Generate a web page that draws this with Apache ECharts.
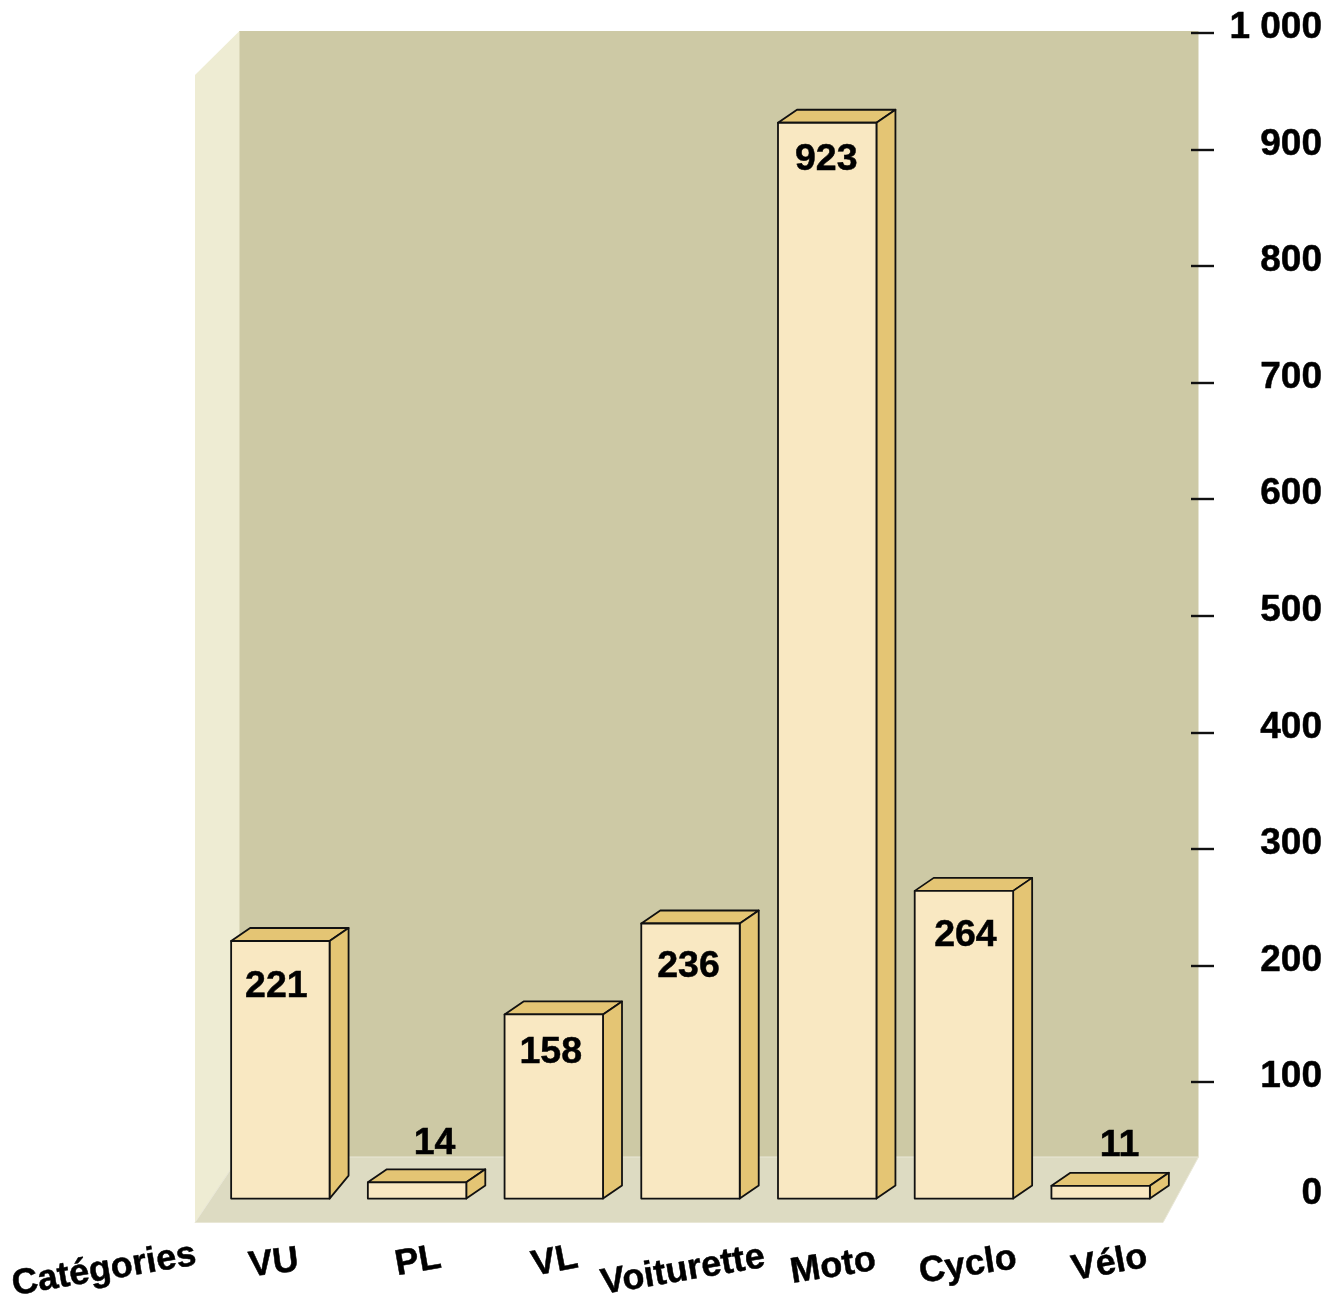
<!DOCTYPE html>
<html>
<head>
<meta charset="utf-8">
<title>Catégories</title>
<script src="https://cdn.jsdelivr.net/npm/echarts@6/dist/echarts.min.js"></script>
<style>
  html, body { margin: 0; padding: 0; background: #ffffff; }
  #chart { width: 1337px; height: 1296px; }
</style>
</head>
<body>
<div id="chart"></div>
<script>
const categories = ['VU', 'PL', 'VL', 'Voiturette', 'Moto', 'Cyclo', 'Vélo'];
const counts = [221, 14, 158, 236, 923, 264, 11];
const axisTitle = 'Catégories';
const axisTicks = [100, 200, 300, 400, 500, 600, 700, 800, 900, 1000];

const FAMILY = '"Liberation Sans", Arial, sans-serif';
const CAPTION_FONT = 'bold 36px ' + FAMILY;
const VALUE_FONT = 'bold 37.5px ' + FAMILY;
const INK = '#111111';
const FRONT = '#F9E8C2';
const SHADE = '#E4C574';
const DEPTH_X = 19;
const DEPTH_Y = 13;
const BAR_RATIO = 0.72;
const TEXT_WEIGHT = { stroke: '#000000', lineWidth: 0.5 };

// Where each value label sits relative to its bar: [dx from centre, dy from top].
const valueLabelShift = [[-4, 46], [17.5, -39], [-3, 38], [-2, 43], [-1, 37], [1.5, 45], [19, -40.5]];
// Category captions follow a gentle arc: [dx from band centre, dy below baseline, tilt in degrees].
const captionArc = [[-6.5, 65, 7], [1, 63, 10], [1, 63, 11], [-7.5, 72, 9.5], [6, 68, 9], [4, 67, 8.7], [9, 65, 10.5]];

const deg = (d) => d * Math.PI / 180;

function poly(points, fill) {
  return {
    type: 'polygon',
    shape: { points },
    style: { fill, stroke: INK, lineWidth: 1.8, lineJoin: 'round' }
  };
}

function renderBar(params, api) {
  const i = api.value(0);
  const value = api.value(1);
  const top = api.coord([i, value]);
  const base = api.coord([i, 0]);
  const w = api.size([1, 0])[0] * BAR_RATIO;
  const l = top[0] - w / 2;
  const r = top[0] + w / 2;
  // The first bar stands against the side wall, so its foot recedes further.
  const footRise = i === 0 ? 23 : DEPTH_Y;
  const shift = valueLabelShift[i];
  return {
    type: 'group',
    children: [
      poly([[l, top[1]], [l + DEPTH_X, top[1] - DEPTH_Y], [r + DEPTH_X, top[1] - DEPTH_Y], [r, top[1]]], SHADE),
      poly([[r, top[1]], [r + DEPTH_X, top[1] - DEPTH_Y], [r + DEPTH_X, base[1] - footRise], [r, base[1]]], SHADE),
      poly([[l, top[1]], [r, top[1]], [r, base[1]], [l, base[1]]], FRONT),
      {
        type: 'text',
        style: {
          text: String(value),
          x: top[0] + shift[0],
          y: top[1] + shift[1],
          font: VALUE_FONT,
          fill: '#000000',
          align: 'center',
          verticalAlign: 'middle',
          ...TEXT_WEIGHT
        }
      }
    ]
  };
}

function renderCaption(params, api) {
  const i = api.value(0);
  const base = api.coord([i, 0]);
  const arc = captionArc[i];
  return {
    type: 'text',
    x: base[0] + arc[0],
    y: base[1] + arc[1],
    rotation: deg(arc[2]),
    style: {
      text: categories[i],
      font: CAPTION_FONT,
      fill: '#000000',
      align: 'center',
      verticalAlign: 'middle',
      ...TEXT_WEIGHT
    }
  };
}

const chart = echarts.init(document.getElementById('chart'), null, { renderer: 'canvas' });

chart.setOption({
  animation: false,
  backgroundColor: '#ffffff',
  grid: { left: 212, right: 168, top: 33, bottom: 97.4, outerBoundsMode: 'none' },
  xAxis: {
    type: 'category',
    data: categories,
    axisLine: { show: false },
    axisTick: { show: false },
    axisLabel: { show: false },
    splitLine: { show: false }
  },
  yAxis: {
    type: 'value',
    position: 'right',
    offset: 22,
    min: 0,
    max: 1000,
    interval: 100,
    axisLine: { show: false },
    splitLine: { show: false },
    axisTick: {
      show: true,
      length: 23,
      customValues: axisTicks,
      lineStyle: { color: INK, width: 2.4 }
    },
    axisLabel: {
      margin: 131,
      align: 'right',
      verticalAlign: 'bottom',
      lineHeight: 10,
      fontWeight: 'bold',
      fontSize: 37,
      fontFamily: FAMILY,
      color: '#000000',
      textBorderColor: '#000000',
      textBorderWidth: 0.5,
      formatter: (v) => (v >= 1000 ? '1 000' : String(v))
    }
  },
  graphic: {
    elements: [
      // Back wall, side wall and floor of the box behind the bars.
      {
        type: 'polygon', z: -10, silent: true,
        shape: { points: [[239, 31], [1198.5, 31], [1198.5, 1157], [239, 1157]] },
        style: { fill: '#CDC9A5' }
      },
      {
        type: 'polygon', z: -9, silent: true,
        shape: { points: [[195, 75], [239.5, 31], [239.5, 1157], [195, 1222]] },
        style: { fill: '#EEECD3' }
      },
      {
        type: 'polygon', z: -8, silent: true,
        shape: { points: [[195, 1222.5], [239, 1157], [1198.5, 1157], [1163, 1222.5]] },
        style: { fill: '#DDDBC2', stroke: '#E9E7D6', lineWidth: 1 }
      },
      {
        type: 'text', z: 5,
        x: 104, y: 1270, rotation: deg(9.5),
        style: {
          text: axisTitle,
          font: CAPTION_FONT,
          fill: '#000000',
          align: 'center',
          verticalAlign: 'middle',
          ...TEXT_WEIGHT
        }
      }
    ]
  },
  series: [
    {
      type: 'custom',
      name: 'Effectif',
      renderItem: renderBar,
      encode: { x: 0, y: 1 },
      data: counts.map((v, i) => [i, v]),
      clip: false,
      silent: true
    },
    {
      type: 'custom',
      name: 'Libellés',
      renderItem: renderCaption,
      encode: { x: 0 },
      data: categories.map((c, i) => [i]),
      clip: false,
      silent: true
    }
  ]
});
</script>
</body>
</html>
